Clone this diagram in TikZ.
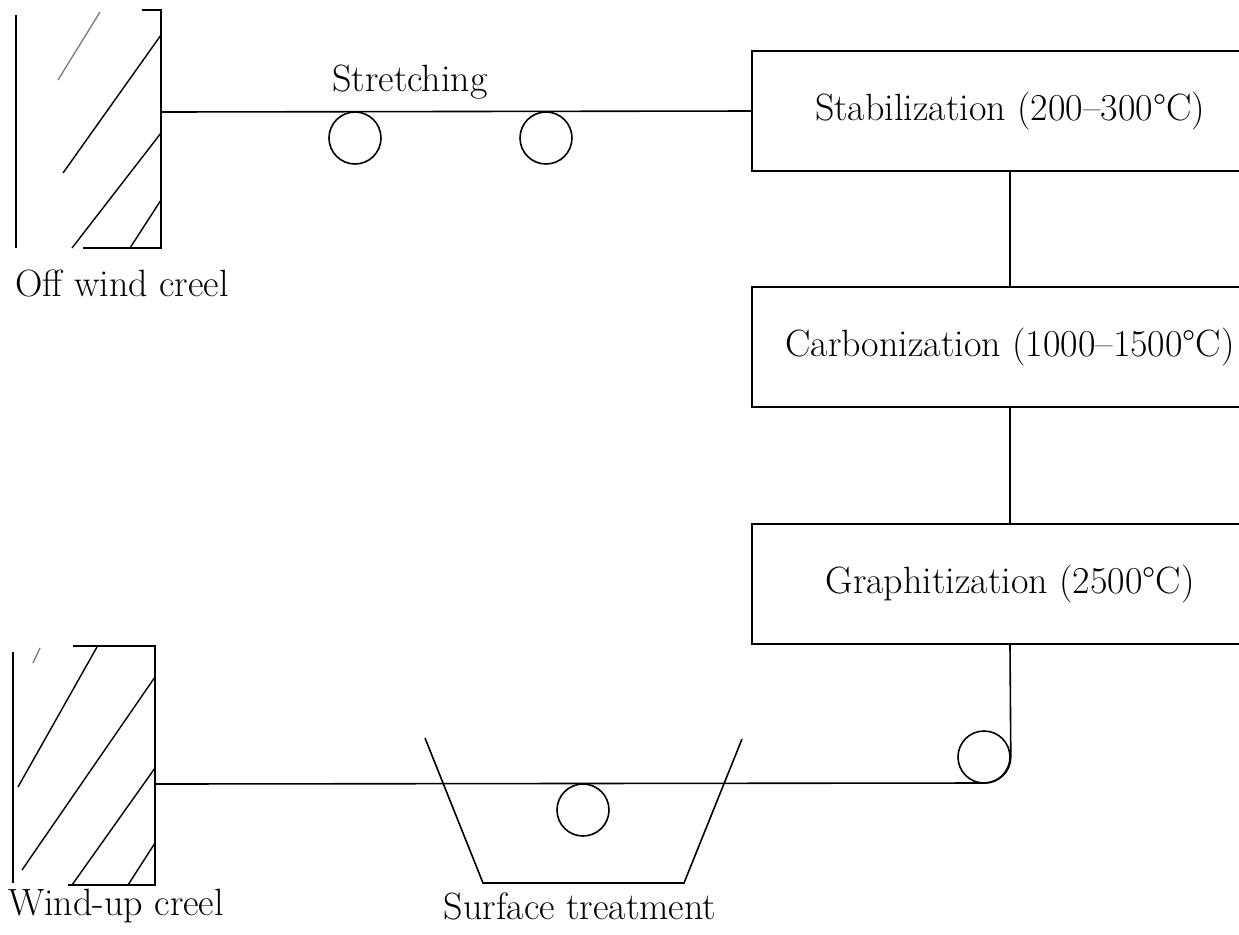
\documentclass[tikz,border=0pt]{standalone}
\usepackage{tikz}
\usetikzlibrary{positioning}

\tikzset{
  stage/.style={draw, line width=0.8pt, minimum width=258pt, minimum height=60pt, inner sep=0pt},
  roller/.style={draw, circle, line width=0.8pt, minimum size=26pt, inner sep=0pt},
  lbl/.style={inner sep=0pt},
  fibre/.style={line width=0.8pt},
  hatch/.style={line width=0.7pt},
}

\begin{document}
\begin{tikzpicture}[x=0.5pt, y=-0.5pt, font=\fontsize{19}{23}\selectfont]
    \clip (0,0) rectangle (1239,934);

    % Furnace stages
    \node[stage] (stab) at (1010,111) {Stabilization (200--300°C)};
    \node[stage] (carb) at (1010,347) {Carbonization (1000--1500°C)};
    \node[stage] (graph) at (1010,584) {Graphitization (2500°C)};
    \draw[fibre] (stab) -- (carb);
    \draw[fibre] (carb) -- (graph);

    % Off wind creel
    \draw[fibre] (16,15) -- (16,248);
    \draw[fibre] (142,10) -- (161,10) -- (161,248) -- (83,248);
    \draw[hatch, gray] (100,12) -- (58,80);
    \draw[hatch] (161,35) -- (63,173);
    \draw[hatch] (161,133) -- (72,248);
    \draw[hatch] (161,200) -- (130,248);
    \coordinate (offcreel) at (161,112);
    \node[lbl] (offlbl) at (122,283) {Off wind creel};

    % Stretching rollers
    \node[roller] (s1) at (355,138) {};
    \node[roller] (s2) at (546,138) {};
    \node[lbl] (stretch) at (410,82) {Stretching};
    \draw[fibre] (offcreel) -- (stab.west);

    % Wind-up creel
    \draw[fibre] (13,652) -- (13,883);
    \draw[fibre] (73,646) -- (155,646) -- (155,885) -- (68,885);
    \draw[hatch, gray] (40,648) -- (33,663);
    \draw[hatch] (97,647) -- (18,787);
    \draw[hatch] (155,677) -- (22,870);
    \draw[hatch] (155,768) -- (72,885);
    \draw[hatch] (155,843) -- (128,885);
    \coordinate (upcreel) at (155,784);
    \node[lbl] (uplbl) at (116,906) {Wind-up creel};

    % Surface treatment bath
    \draw[fibre] (425,738) -- (483,883) -- (684,883) -- (742,739);
    \node[roller] (dip) at (583,810) {};
    \node[lbl] (bathlbl) at (580,906) {Surface treatment};

    % Return path
    \node[roller] (turn) at (984,757) {};
    \draw[fibre] (graph.south) -- (turn.east) arc[start angle=0, end angle=-90, radius=13pt] -- (upcreel);
\end{tikzpicture}
\end{document}
